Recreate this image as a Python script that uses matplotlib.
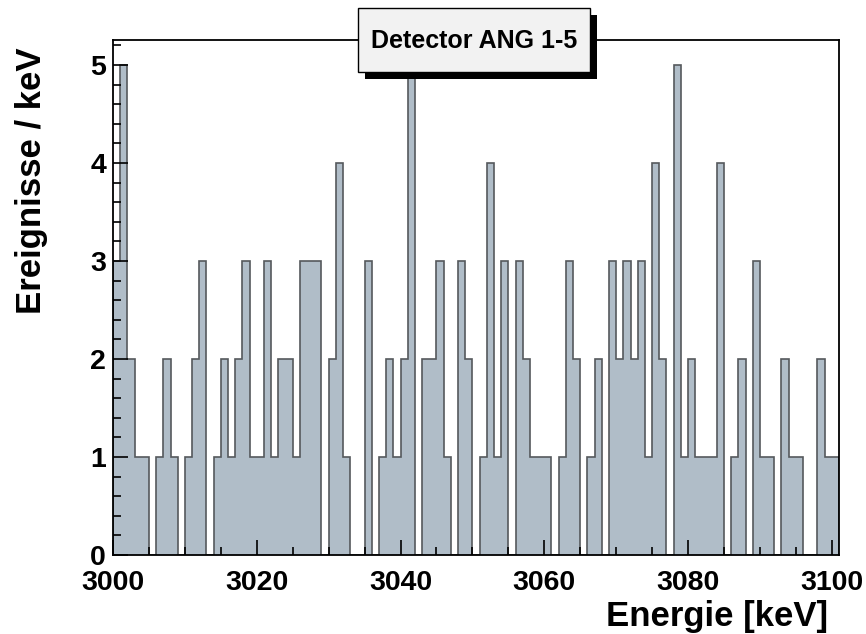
import numpy as np
import matplotlib
matplotlib.use('Agg')
import matplotlib.pyplot as plt
from matplotlib.ticker import MultipleLocator
from matplotlib.patches import Rectangle

# counts per 1 keV bin, starting at 3000 keV
counts = [3, 5, 2, 1, 1, 0, 1, 2, 1, 0,
          1, 2, 3, 0, 1, 2, 1, 2, 3, 1,
          1, 3, 1, 2, 2, 1, 3, 3, 3, 0,
          2, 4, 1, 0, 0, 3, 0, 1, 2, 1,
          2, 5, 0, 2, 2, 3, 1, 0, 3, 2,
          0, 1, 4, 1, 3, 0, 3, 2, 1, 1,
          1, 0, 1, 3, 2, 0, 1, 2, 0, 3,
          2, 3, 2, 3, 1, 4, 2, 0, 5, 1,
          2, 1, 1, 1, 4, 0, 1, 2, 0, 3,
          1, 1, 0, 2, 1, 1, 0, 0, 2, 1, 1]
e_start = 3000
e_width = 1
title = 'Detector ANG 1-5'
xlabel = 'Energie [keV]'
ylabel = 'Ereignisse / keV'

plt.rcParams['font.family'] = ['Liberation Sans', 'DejaVu Sans']
plt.rcParams['font.weight'] = 'bold'

edges = e_start + e_width*np.arange(len(counts)+1)

W, H = 866, 634
fig = plt.figure(figsize=(W/100, H/100), dpi=100)
ax = fig.add_axes([113/W, 1-555/H, 726/W, 515/H])
ax.stairs(counts, edges, fill=True, color='#b0bdc8', lw=0)
ax.stairs(counts, edges, baseline=0, color='#55595c', lw=1.2)

ax.set_xlim(edges[0], edges[-1])
ax.set_ylim(0, 5.255)

ax.xaxis.set_major_locator(MultipleLocator(20))
ax.xaxis.set_minor_locator(MultipleLocator(5))
ax.yaxis.set_major_locator(MultipleLocator(1))
ax.yaxis.set_minor_locator(MultipleLocator(0.2))
ax.tick_params(which='both', direction='in', top=False, right=False, width=1.2, color='black')
ax.tick_params(which='major', length=11, labelsize=20.5)
ax.tick_params(which='minor', length=6)
ax.tick_params(axis='x', which='major', pad=11)
ax.tick_params(axis='y', which='major', pad=5)
for lab in ax.get_xticklabels() + ax.get_yticklabels():
    lab.set_fontweight('bold')
for s in ax.spines.values():
    s.set_linewidth(1.3)

ax.set_xlabel(xlabel, fontsize=25, fontweight='bold', loc='right')
ax.set_ylabel(ylabel, fontsize=25, fontweight='bold', loc='top')
ax.xaxis.set_label_coords(0.985, -0.088)
ax.yaxis.set_label_coords(-0.09, 0.985)

# title box with shadow, ROOT style
fig.add_artist(Rectangle((365/W, 1-79/H), 232/W, 64/H, transform=fig.transFigure,
                         fc='black', ec='none', zorder=9))
fig.add_artist(Rectangle((358/W, 1-72/H), 232/W, 64/H, transform=fig.transFigure,
                         fc='#f2f2f2', ec='black', lw=1.0, zorder=10))
fig.text(474/W, 1-41/H, title, ha='center', va='center', fontsize=18,
         fontweight='bold', zorder=11)

fig.savefig('out.png', dpi=100)
